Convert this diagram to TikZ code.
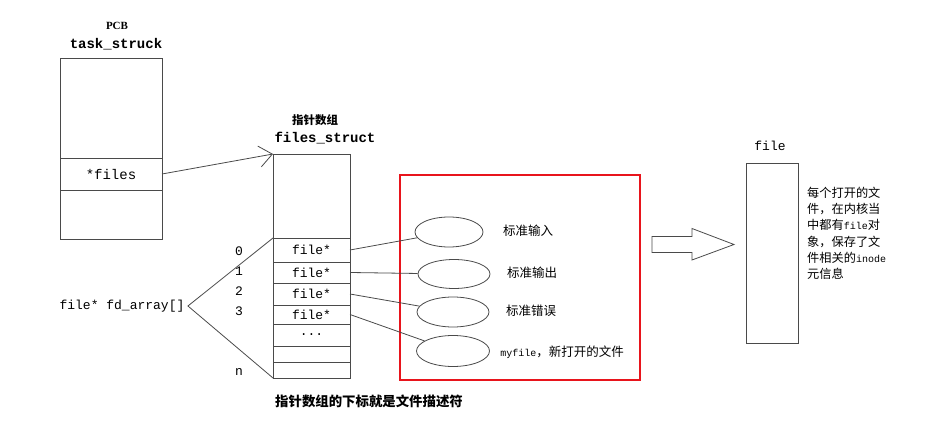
\documentclass[tikz,border=0pt]{standalone}
\usepackage{fontspec}
\setmainfont{Liberation Serif}
\setmonofont{Liberation Mono}
\newfontfamily\cjk{Noto Sans CJK SC}
\usetikzlibrary{arrows.meta,positioning,shapes.geometric}
\definecolor{framered}{HTML}{E8141C}
\definecolor{linegray}{HTML}{4A4A4A}
\newcommand{\mono}[1]{{\ttfamily\fontsize{10}{12}\selectfont #1}}
\tikzset{
  taskcell/.style={draw=linegray,line width=.9pt,minimum width=102pt,inner sep=0pt,outer sep=0pt,font=\ttfamily\fontsize{14}{16}\selectfont},
  fdcell/.style={draw=linegray,line width=.9pt,minimum width=77pt,inner sep=0pt,outer sep=0pt,font=\ttfamily\fontsize{13}{15}\selectfont},
  oval/.style={draw=linegray,line width=.8pt,ellipse,inner sep=0pt,minimum width=72pt,minimum height=30pt},
  stdlabel/.style={font=\cjk\fontsize{12.5}{14}\selectfont},
  idx/.style={font=\ttfamily\fontsize{13}{15}\selectfont},
  titlemono/.style={font=\ttfamily\bfseries\fontsize{14}{16}\selectfont},
  redframe/.style={draw=framered,line width=2pt,minimum width=240pt,minimum height=205pt},
  filebox/.style={draw=linegray,line width=.9pt,minimum width=52pt,minimum height=180pt},
  flow/.style={-{Straight Barb[length=13pt,width=21pt]},line width=.8pt,draw=linegray},
  link/.style={line width=.8pt,draw=linegray},
}
\begin{document}
\begin{tikzpicture}[x=1pt,y=-1pt]
  \useasboundingbox (0,0) rectangle (929,443);

  \node[font=\bfseries\fontsize{11}{12}\selectfont] (pcb) at (117,26) {PCB};
  \node[titlemono] (tasktitle) at (116,44) {task\_struck};
  \node[taskcell,minimum height=100pt] (tasktop) at (111,108) {};
  \node[taskcell,minimum height=32pt,below=0pt of tasktop] (filesptr) {*files};
  \node[taskcell,minimum height=49pt,below=0pt of filesptr] (tasklow) {};

  \node[font=\cjk\bfseries\fontsize{11.5}{13}\selectfont] (fdcaption) at (315,120) {指针数组};
  \node[titlemono] (fdtitle) at (325,138) {files\_struct};
  \node[fdcell,minimum height=84pt] (fdtop) at (311.5,196) {};
  \node[fdcell,minimum height=24pt,below=0pt of fdtop] (fd0) {file*};
  \node[fdcell,minimum height=21pt,below=0pt of fd0] (fd1) {file*};
  \node[fdcell,minimum height=22pt,below=0pt of fd1] (fd2) {file*};
  \node[fdcell,minimum height=19pt,below=0pt of fd2] (fd3) {file*};
  \node[fdcell,minimum height=22pt,below=0pt of fd3] (fddots) {...};
  \node[fdcell,minimum height=16pt,below=0pt of fddots] (fdspare) {};
  \node[fdcell,minimum height=16pt,below=0pt of fdspare] (fdn) {};

  \node[idx] (idx0) at (239,251) {0};
  \node[idx] (idx1) at (239,271) {1};
  \node[idx] (idx2) at (239,291) {2};
  \node[idx] (idx3) at (239,311) {3};
  \node[idx] (idxn) at (239,372) {n};
  \node[idx] (fdarray) at (122,306) {file* fd\_array[]};

  \node[font=\cjk\bfseries\fontsize{13.4}{15}\selectfont] (fdnote) at (369,401) {指针数组的下标就是文件描述符};

  \node[redframe] (stdframe) at (520,277.5) {};
  \node[oval,minimum width=68pt] (stdin) at (449,232) {};
  \node[oval,minimum height=29pt] (stdout) at (454,274) {};
  \node[oval] (stderr) at (453,312) {};
  \node[oval,minimum width=73pt,minimum height=31pt] (myfile) at (453,351) {};
  \node[stdlabel] (stdinlbl) at (528,231) {标准输入};
  \node[stdlabel] (stdoutlbl) at (532,273) {标准输出};
  \node[stdlabel] (stderrlbl) at (531,311) {标准错误};
  \node[stdlabel] (myfilelbl) at (562,352) {\mono{myfile}，新打开的文件};

  \draw[link,fill=white] (652,236.5) -- (692,236.5) -- (692,228.5) -- (734,244.5)
    -- (692,260) -- (692,252.5) -- (652,252.5) -- cycle;

  \node[filebox] (fileobj) at (772,253) {};
  \node[idx] (filetitle) at (770,146) {file};
  \node[anchor=north west,align=left,inner sep=0pt,font=\cjk\fontsize{12.2}{16.2}\selectfont] (fileinfo) at (807,187)
    {每个打开的文\\件，在内核当\\中都有\mono{file}对\\象，保存了文\\件相关的\mono{inode}\\元信息};

  \draw[flow] (filesptr.east) -- (fdtop.north west);
  \draw[link] (fd0.north west) -- (fdarray.east) -- (fdn.south west);
  \draw[link] (fd0.east) -- (stdin);
  \draw[link] (fd1.east) -- (stdout);
  \draw[link] (fd2.east) -- (stderr);
  \draw[link] (fd3.east) -- (myfile);
\end{tikzpicture}
\end{document}
